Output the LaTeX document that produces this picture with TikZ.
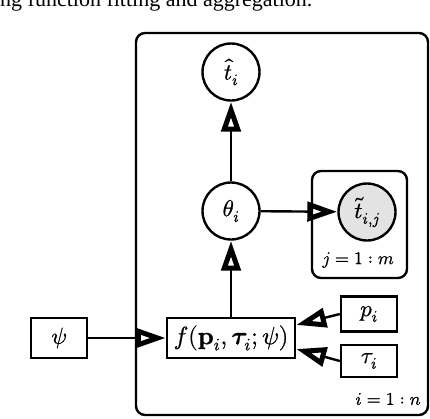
\documentclass[tikz,border=0pt]{standalone}
\usepackage{fontspec}
\usepackage{unicode-math}
\setmathfont{Latin Modern Math}[FakeBold=0.8]
\newfontfamily\capfont{Liberation Serif}
\usetikzlibrary{arrows.meta}
\tikzset{
  myhead/.tip={Triangle[open,length=30pt,width=19pt,line width=5pt]}
}
\begin{document}
\begin{tikzpicture}[x=1pt,y=-1pt,
  every node/.style={font=\fontsize{23}{27}\selectfont},
  var/.style={circle,draw,line width=2.4pt,minimum size=57pt,inner sep=0pt},
  obs/.style={var,fill=black!11},
  fbox/.style={rectangle,draw,line width=2.4pt,inner sep=0pt},
  plate/.style={draw,line width=2.4pt,rounded corners=9pt},
  lab/.style={font=\fontsize{18}{21}\selectfont},
  arr/.style={line width=2.4pt,-myhead}]
\useasboundingbox (0,0) rectangle (430,418);
\begin{scope}
\clip (0,0) rectangle (430,418);
\node[anchor=base west,inner sep=0pt,font=\capfont\fontsize{22}{24}\selectfont] (cap) at (0,6) {ng function fitting and aggregation.};
\end{scope}
% plates
\draw[plate] (136,33) rectangle (428,415);
\draw[plate] (312,171) rectangle (407,278);
\node[lab,anchor=center] (lj) at (358,260) {$j=1:m$};
\node[lab,anchor=center] (li) at (388,399) {$i=1:n$};
% nodes
\node[var] (th) at (231,72) {$\hat t_i$};
\node[var] (theta) at (231,211) {$\theta_i$};
\node[obs] (tt) at (367,212) {$\tilde t_{i,j}$};
\node[fbox,minimum width=128pt,minimum height=40pt,font=\fontsize{25}{30}\selectfont] (f) at (231,338) {$f(\symbf{p}_i,\symbfit{\tau}_i;\psi)$};
\node[fbox,minimum width=56pt,minimum height=40pt] (psi) at (59,338) {$\psi$};
\node[fbox,minimum width=56pt,minimum height=35pt] (p) at (369,314) {$p_i$};
\node[fbox,minimum width=56pt,minimum height=32pt] (tau) at (369,361) {$\tau_i$};
% edges
\draw[arr] (theta) -- (th);
\draw[arr] (theta) -- (tt);
\draw[arr] (f) -- (theta);
\draw[arr] (psi) -- (f);
\draw[arr] (p.west) -- (f.east |- 0,325);
\draw[arr] (tau.west) -- (f.east |- 0,349);
\end{tikzpicture}
\end{document}
